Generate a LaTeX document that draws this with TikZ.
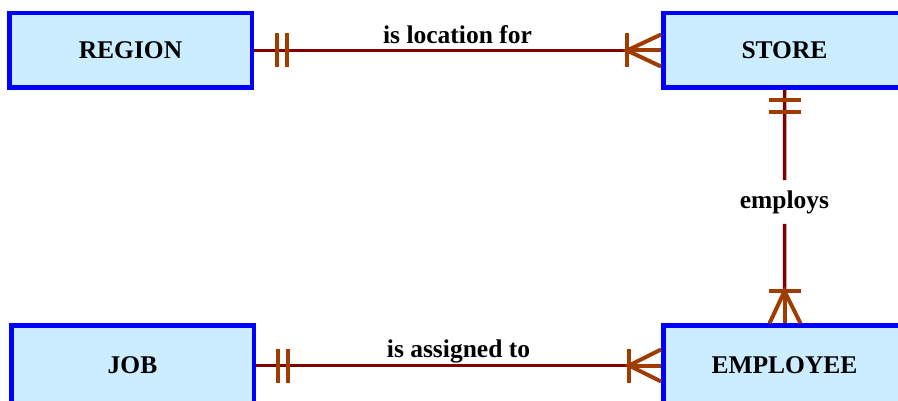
\documentclass[tikz,border=0pt]{standalone}
\usepackage{fontspec}
\setmainfont{Liberation Serif}
\usetikzlibrary{calc}

\definecolor{boxfill}{RGB}{204,236,255}
\definecolor{boxline}{RGB}{0,0,255}
\definecolor{relline}{RGB}{128,0,0}
\definecolor{markline}{RGB}{160,60,0}

\tikzset{
    entity/.style={draw=boxline, fill=boxfill, line width=4.5pt,
        minimum width=242.5pt, minimum height=74.5pt,
        font=\fontsize{25.5}{30}\selectfont\bfseries},
    rel/.style={draw=relline, line width=3.5pt},
    crowmark/.style={draw=markline, line width=4pt},
    rellabel/.style={font=\fontsize{25.5}{30}\selectfont\bfseries, inner sep=0pt}
}

\begin{document}
\begin{tikzpicture}[x=1pt, y=-1pt]
    \useasboundingbox (0,0) rectangle (898,401);
    \clip (0,0) rectangle (898,401);

    % Entities
    \node[entity] (region) at (130.5, 50.5) {REGION};
    \node[entity] (store) at (784.5, 50.5) {STORE};
    \node[entity, minimum height=80pt] (job) at (132.5, 365.5) {JOB};
    \node[entity, minimum height=80pt] (employee) at (784.5, 365.5) {EMPLOYEE};

    % Crow's foot roots
    \coordinate (storefoot) at ($(store.west)+(-34,0)$);
    \coordinate (emplfoot) at ($(employee.west)+(-32,0)$);
    \coordinate (emptopfoot) at ($(employee.north)+(0,-32)$);

    % Relation labels
    \node[rellabel, anchor=base] (locfor) at ($(region.east)!0.5!(store.west)+(0,-7)$) {is location for};
    \node[rellabel, anchor=base] (assigned) at ($(job.east)!0.5!(employee.west)+(0,-8)$) {is assigned to};
    \node[rellabel, inner sep=10pt] (employs) at ($(store.south)!0.48!(employee.north)$) {employs};

    % Relationship lines
    \draw[rel] (region.east) -- (storefoot);
    \draw[rel] (job.east) -- (emplfoot);
    \draw[rel] (store.south) -- (employs.north);
    \draw[rel] (employs.south) -- (emptopfoot);

    % One-and-only-one marks
    \foreach \d in {23, 33}
        \draw[crowmark] ($(region.east)+(\d,-17)$) -- ++(0,34);
    \foreach \d in {22, 32}
        \draw[crowmark] ($(job.east)+(\d,-17)$) -- ++(0,34);
    \foreach \d in {10, 22}
        \draw[crowmark] ($(store.south)+(-16,\d)$) -- ++(32,0);

    % One-or-many marks
    \draw[crowmark] ($(storefoot)+(0,-17)$) -- ++(0,34);
    \draw[crowmark] ($(store.west)+(0,-16)$) -- (storefoot) -- ($(store.west)+(0,16)$);
    \draw[crowmark] (storefoot) -- (store.west);

    \draw[crowmark] ($(emplfoot)+(0,-17)$) -- ++(0,34);
    \draw[crowmark] ($(employee.west)+(0,-16)$) -- (emplfoot) -- ($(employee.west)+(0,16)$);
    \draw[crowmark] (emplfoot) -- (employee.west);

    \draw[crowmark] ($(emptopfoot)+(-16,0)$) -- ++(32,0);
    \draw[crowmark] ($(employee.north)+(-15,0)$) -- (emptopfoot) -- ($(employee.north)+(16,0)$);
    \draw[crowmark] (emptopfoot) -- (employee.north);

\end{tikzpicture}
\end{document}
